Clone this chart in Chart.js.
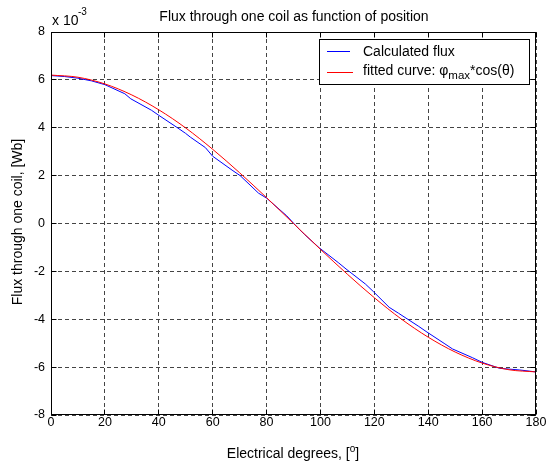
<!DOCTYPE html>
<html>
<head>
<meta charset="utf-8">
<script src="https://cdn.jsdelivr.net/npm/chart.js@4"></script>
<style>
html, body { margin: 0; padding: 0; background: #fff; }
canvas { display: block; }
</style>
</head>
<body>
<canvas id="fluxChart" width="547" height="465"></canvas>
<script>
// calculated flux (x 10^-3 Wb)
const degreesCalc = [0, 5, 10, 15, 20, 27.4, 29.6, 37.3, 40, 46.8, 49.9, 51.7, 57.3, 60, 67.2, 70.2, 77, 80, 87.5,
    92.2, 94.1, 99.6, 106.8, 109.5, 116.7, 119.6, 125.5, 129, 136.5, 139.2, 146.2, 149, 156.5, 160, 166.5, 174, 180];
const fluxCalc = [6.18, 6.14, 6.07, 5.96, 5.80, 5.42, 5.21, 4.73, 4.52, 4.01, 3.77, 3.61, 3.17, 2.81, 2.23, 2.00, 1.27, 1.06, 0.32,
    -0.25, -0.46, -1.02, -1.65, -1.90, -2.53, -2.84, -3.50, -3.75, -4.30, -4.51, -5.03, -5.24, -5.61, -5.80, -6.05, -6.12, -6.20];

// fitted curve phi_max*cos(theta)
const degreesFit = [0, 10, 20, 30, 40, 50, 60, 70, 80, 90, 100, 110, 120, 130, 140, 150, 160, 170, 180];
const fluxFit = [6.20, 6.11, 5.83, 5.37, 4.75, 3.99, 3.10, 2.12, 1.08, 0, -1.08, -2.12, -3.10, -3.99, -4.75, -5.37, -5.83, -6.11, -6.20];

const xTicks = [0, 20, 40, 60, 80, 100, 120, 140, 160, 180];
const yTicks = [-8, -6, -4, -2, 0, 2, 4, 6, 8];

const FONT = '"Liberation Sans", Arial, sans-serif';

const matlabFrame = {
    id: 'matlabFrame',
    afterDraw(chart) {
        const ctx = chart.ctx;
        const a = chart.chartArea;
        const x = chart.scales.x, y = chart.scales.y;
        const L = Math.round(a.left) + 0.5, R = Math.round(a.right) - 0.5;
        const T = Math.round(a.top) + 0.5, B = Math.round(a.bottom) - 0.5;
        ctx.save();
        ctx.strokeStyle = '#000';
        ctx.lineWidth = 1;
        ctx.strokeRect(L, T, R - L, B - T);

        // inward tick marks
        ctx.beginPath();
        xTicks.forEach(v => {
            const p = Math.round(x.getPixelForValue(v) - 0.5) + 0.5;
            ctx.moveTo(p, T); ctx.lineTo(p, T + 5);
            ctx.moveTo(p, B); ctx.lineTo(p, B - 5);
        });
        yTicks.forEach(v => {
            const p = Math.round(y.getPixelForValue(v) - 0.5) + 0.5;
            ctx.moveTo(L, p); ctx.lineTo(L + 5, p);
            ctx.moveTo(R, p); ctx.lineTo(R - 5, p);
        });
        ctx.stroke();

        ctx.fillStyle = '#000';
        ctx.textBaseline = 'alphabetic';

        // title
        ctx.font = '14px ' + FONT;
        ctx.textAlign = 'center';
        ctx.fillText('Flux through one coil as function of position', 294, 20.5);

        // exponent
        ctx.textAlign = 'left';
        ctx.fillText('x 10', 52, 25);
        ctx.font = '10px ' + FONT;
        ctx.fillText('-3', 78, 15);

        // x title with superscript o
        ctx.font = '14px ' + FONT;
        const xa = 'Electrical degrees, [', xb = ']';
        const wa = ctx.measureText(xa).width, wb = ctx.measureText(xb).width;
        ctx.font = '10px ' + FONT;
        const wo = ctx.measureText('o').width;
        let sx = 293 - (wa + wo + wb) / 2;
        ctx.font = '14px ' + FONT;
        ctx.fillText(xa, sx, 457.5);
        ctx.font = '10px ' + FONT;
        ctx.fillText('o', sx + wa, 452);
        ctx.font = '14px ' + FONT;
        ctx.fillText(xb, sx + wa + wo, 457.5);

        // y title
        ctx.save();
        ctx.translate(22, 222);
        ctx.rotate(-Math.PI / 2);
        ctx.textAlign = 'center';
        ctx.fillText('Flux through one coil, [Wb]', 0, 0);
        ctx.restore();

        // legend
        ctx.fillStyle = '#fff';
        ctx.fillRect(319.5, 39.5, 210, 45);
        ctx.strokeStyle = '#000';
        ctx.strokeRect(319.5, 39.5, 210, 45);
        ctx.beginPath();
        ctx.strokeStyle = '#0000ff';
        ctx.moveTo(327, 51.5); ctx.lineTo(350, 51.5);
        ctx.stroke();
        ctx.beginPath();
        ctx.strokeStyle = '#ff0000';
        ctx.moveTo(327, 72.5); ctx.lineTo(353, 72.5);
        ctx.stroke();
        ctx.fillStyle = '#000';
        ctx.textAlign = 'left';
        ctx.font = '14px ' + FONT;
        ctx.fillText('Calculated flux', 363, 55.5);
        const t1 = 'fitted curve: \u03c6';
        ctx.fillText(t1, 363, 74.5);
        let lx = 363 + ctx.measureText(t1).width;
        ctx.font = '11.5px ' + FONT;
        ctx.fillText('max', lx, 78.5);
        lx += ctx.measureText('max').width;
        ctx.font = '14px ' + FONT;
        ctx.fillText('*cos(\u03b8)', lx, 74.5);
        ctx.restore();
    }
};

const fluxChart = document.getElementById('fluxChart');

new Chart(fluxChart, {
    type: 'line',
    data: {
        datasets: [{
                label: 'fitted curve',
                data: degreesFit.map((d, i) => ({ x: d, y: fluxFit[i] })),
                borderColor: '#ff0000',
                borderWidth: 1,
                pointRadius: 0,
                cubicInterpolationMode: 'monotone',
                order: 0
            },
            {
                label: 'Calculated flux',
                data: degreesCalc.map((d, i) => ({ x: d, y: fluxCalc[i] })),
                borderColor: '#0000ff',
                borderWidth: 1,
                pointRadius: 0,
                tension: 0,
                order: 1
            }
        ]
    },
    options: {
        responsive: false,
        animation: false,
        devicePixelRatio: 1,
        layout: { padding: { left: 0, top: 32, right: 11, bottom: 0 } },
        plugins: {
            legend: { display: false },
            title: { display: false },
            tooltip: { enabled: false }
        },
        scales: {
            x: {
                type: 'linear',
                min: 0,
                max: 180,
                afterBuildTicks: s => { s.ticks = xTicks.map(v => ({ value: v })); },
                afterFit: s => { s.height = 50; },
                grid: { color: '#444', drawTicks: false },
                border: { display: false, dash: [4, 3] },
                ticks: { autoSkip: false, maxRotation: 0, padding: 0, color: '#000', font: { family: FONT, size: 12.5 } }
            },
            y: {
                type: 'linear',
                min: -8,
                max: 8,
                afterBuildTicks: s => { s.ticks = yTicks.map(v => ({ value: v })); },
                afterFit: s => { s.width = 51; },
                grid: { color: '#444', drawTicks: false },
                border: { display: false, dash: [4, 3] },
                ticks: { padding: 6, color: '#000', font: { family: FONT, size: 12.5 } }
            }
        }
    },
    plugins: [matlabFrame]
});
</script>
</body>
</html>
